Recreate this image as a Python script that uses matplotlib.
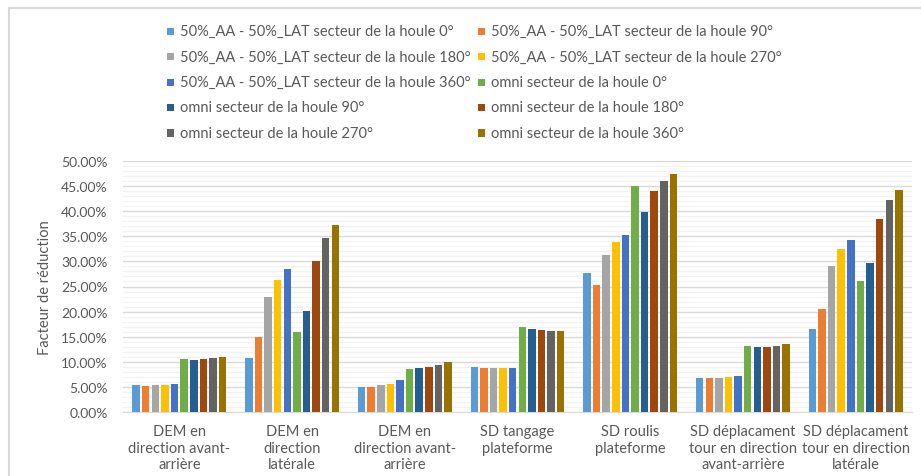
import numpy as np
import matplotlib.pyplot as plt
from matplotlib.ticker import MultipleLocator, PercentFormatter
from matplotlib.lines import Line2D
from matplotlib.patches import Rectangle

plt.rcParams["font.family"] = ["Lato", "DejaVu Sans"]

categories = [
    "DEM en\ndirection avant-\narrière",
    "DEM en\ndirection\nlatérale",
    "DEM en\ndirection avant-\narrière",
    "SD tangage\nplateforme",
    "SD roulis\nplateforme",
    "SD déplacament\ntour en direction\navant-arrière",
    "SD déplacament\ntour en direction\nlatérale",
]

series_names = [
    "50%_AA - 50%_LAT secteur de la houle 0°",
    "50%_AA - 50%_LAT secteur de la houle 90°",
    "50%_AA - 50%_LAT secteur de la houle 180°",
    "50%_AA - 50%_LAT secteur de la houle 270°",
    "50%_AA - 50%_LAT secteur de la houle 360°",
    "omni secteur de la houle 0°",
    "omni secteur de la houle 90°",
    "omni secteur de la houle 180°",
    "omni secteur de la houle 270°",
    "omni secteur de la houle 360°",
]

# reduction factor (%) per series, one value per category
aa_lat_0   = [5.33, 10.67, 5.07, 8.93, 27.67, 6.87, 16.60]
aa_lat_90  = [5.20, 15.00, 5.07, 8.80, 25.20, 6.73, 20.60]
aa_lat_180 = [5.33, 22.93, 5.40, 8.67, 31.20, 6.87, 29.07]
aa_lat_270 = [5.47, 26.27, 5.67, 8.67, 33.87, 7.00, 32.53]
aa_lat_360 = [5.67, 28.40, 6.47, 8.80, 35.33, 7.27, 34.20]
omni_0     = [10.53, 15.87, 8.47, 16.87, 45.07, 13.07, 26.07]
omni_90    = [10.40, 20.13, 8.67, 16.60, 39.80, 12.93, 29.60]
omni_180   = [10.53, 30.13, 8.93, 16.27, 43.93, 12.93, 38.47]
omni_270   = [10.67, 34.73, 9.27, 16.13, 46.00, 13.07, 42.27]
omni_360   = [10.93, 37.27, 9.87, 16.13, 47.33, 13.47, 44.20]

series = [aa_lat_0, aa_lat_90, aa_lat_180, aa_lat_270, aa_lat_360,
          omni_0, omni_90, omni_180, omni_270, omni_360]

colors = ["#5B9BD5", "#ED7D31", "#A5A5A5", "#FFC000", "#4472C4",
          "#70AD47", "#255E91", "#9E480E", "#636363", "#997300"]

TEXT = "#595959"
W, H = 921, 477

fig = plt.figure(figsize=(W / 100, H / 100), dpi=100)
ax = fig.add_axes([123 / W, 64 / H, (912 - 123) / W, 251 / H])

# chart frame (top and left edges)
fig.add_artist(Line2D([8.5 / W, 8.5 / W], [0, 1 - 8.5 / H], color="#D9D9D9", lw=1.5))
fig.add_artist(Line2D([8.5 / W, 1], [1 - 8.5 / H, 1 - 8.5 / H], color="#D9D9D9", lw=1.5))

x = np.arange(len(categories))
slot = 0.852 / len(series)
bar_w = slot * 0.78
for i, (vals, c) in enumerate(zip(series, colors)):
    offs = (i - (len(series) - 1) / 2) * slot
    ax.bar(x + offs, vals, width=bar_w, color=c, label=series_names[i], zorder=3)

ax.set_xlim(-0.5, len(categories) - 0.5)
ax.set_ylim(0, 50)
ax.yaxis.set_major_locator(MultipleLocator(5))
ax.yaxis.set_minor_locator(MultipleLocator(1))
ax.yaxis.set_major_formatter(PercentFormatter(decimals=2))
ax.grid(axis="y", which="major", color="#D9D9D9", lw=1.0, zorder=0)
ax.grid(axis="y", which="minor", color="#F2F2F2", lw=0.9, zorder=0)
ax.tick_params(axis="y", which="both", length=0, labelsize=10, labelcolor=TEXT, pad=11)
ax.tick_params(axis="x", length=0, labelsize=10.5, labelcolor=TEXT, pad=9)
ax.set_xticks(x)
ax.set_xticklabels(categories, linespacing=1.2)
for s in ["top", "right", "left"]:
    ax.spines[s].set_visible(False)
ax.spines["bottom"].set_color("#D9D9D9")

ax.set_ylabel("Facteur de réduction", fontsize=10.5, color=TEXT)
ax.yaxis.set_label_coords(-0.09, 0.5)

# legend: two columns, filled row by row
col_x = [167, 478]
row_y = [32, 57.5, 83, 108.5, 134]
box = 7
for i, (name, c) in enumerate(zip(series_names, colors)):
    cx = col_x[i % 2]
    cy = row_y[i // 2]
    fig.add_artist(Rectangle((cx / W, 1 - (cy + box / 2) / H), box / W, box / H,
                             transform=fig.transFigure, facecolor=c, edgecolor="none"))
    fig.text((cx + box + 6) / W, 1 - cy / H, name, fontsize=10.5, color=TEXT,
             ha="left", va="center")

fig.savefig("out.png", dpi=100)
